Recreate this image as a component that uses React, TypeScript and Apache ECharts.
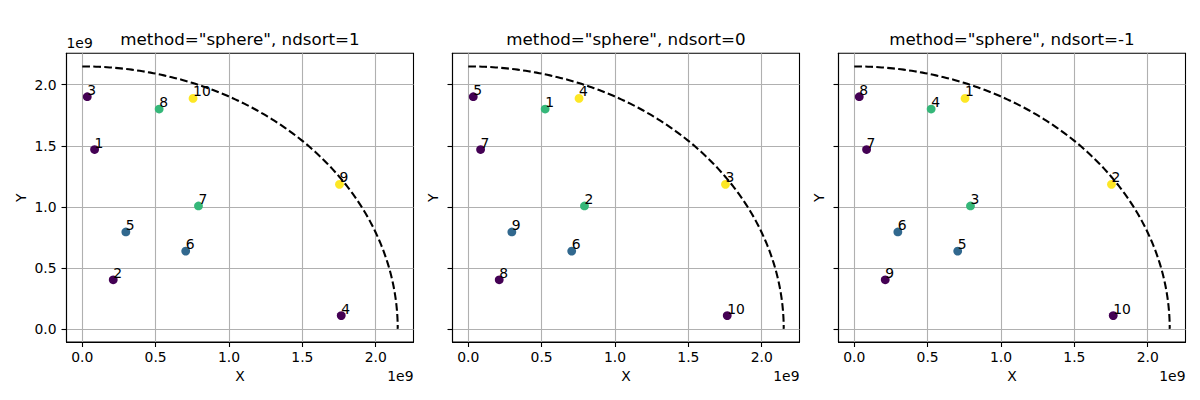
import React, { useEffect, useRef } from "react";
import * as echarts from "echarts";

// Point coordinates (units of 1e9), shared by all three panels
const X_VALUES = [0.034, 0.084, 0.211, 0.297, 0.524, 0.705, 0.755, 0.792, 1.753, 1.765];
const Y_VALUES = [1.902, 1.469, 0.402, 0.794, 1.801, 0.637, 1.888, 1.007, 1.184, 0.109];
// viridis colour class of each point
const COLOR_CLASS = [0, 0, 0, 1, 2, 1, 3, 2, 3, 0];
const VIRIDIS = ["#440154", "#31688e", "#35b779", "#fde725"];
// point labels per panel
const LABELS_NDSORT_1 = [3, 1, 2, 5, 8, 6, 10, 7, 9, 4];
const LABELS_NDSORT_0 = [5, 7, 8, 9, 1, 6, 4, 2, 3, 10];
const LABELS_NDSORT_M1 = [8, 7, 9, 6, 4, 5, 1, 3, 2, 10];
const NDSORT = [1, 0, -1];
const PANEL_LABELS = [LABELS_NDSORT_1, LABELS_NDSORT_0, LABELS_NDSORT_M1];
const TICKS = [0, 0.5, 1.0, 1.5, 2.0];
const RADIUS = 2.15;
const AXIS_MIN = -0.1075;
const AXIS_MAX = 2.2575;
const OFFSET_TEXT = "1e9";

const FONT = "DejaVu Sans";

export default function App() {
  const ref = useRef<HTMLDivElement>(null);
  useEffect(() => {
    document.body.style.margin = "0";
    const chart = echarts.init(ref.current!, null, { renderer: "svg" });
    const GRID_LEFT = 66.5;
    const GRID_STEP = 386;
    const GRID_TOP = 53.3;
    const GRID_W = 347;
    const GRID_H = 288.7;

    const grids: any[] = [];
    const xAxes: any[] = [];
    const yAxes: any[] = [];
    const series: any[] = [];
    const graphics: any[] = [];

    const axisCommon = (i: number, isY: boolean) => ({
      gridIndex: i,
      type: "value",
      min: AXIS_MIN,
      max: AXIS_MAX,
      axisLine: { show: true, onZero: false, lineStyle: { color: "#000", width: 1.1 } },
      axisTick: { show: true, customValues: TICKS, length: 5, lineStyle: { color: "#000", width: 1.1 } },
      axisLabel: {
        show: !isY || i === 0,
        customValues: TICKS,
        formatter: (v: number) => v.toFixed(1),
        margin: isY ? 10 : 8,
        fontSize: 13.9,
        color: "#000",
        fontFamily: FONT,
      },
      splitLine: { show: true, lineStyle: { color: "#b0b0b0", width: 1.1 } },
      nameLocation: "middle",
      nameTextStyle: { fontSize: 13.9, color: "#000", fontFamily: FONT },
    });

    for (let i = 0; i < 3; i++) {
      const left = GRID_LEFT + i * GRID_STEP;
      grids.push({
        left,
        top: GRID_TOP,
        width: GRID_W,
        height: GRID_H,
        show: true,
        borderColor: "#000",
        borderWidth: 1.1,
        backgroundColor: "transparent",
      });
      xAxes.push({ ...axisCommon(i, false), name: "X", nameGap: 27 });
      yAxes.push({ ...axisCommon(i, true), name: "Y", nameRotate: 90, nameGap: i === 0 ? 39 : 12.5 });

      series.push({
        type: "custom",
        xAxisIndex: i,
        yAxisIndex: i,
        data: [[RADIUS, 0]],
        z: 3,
        renderItem: (params: any, api: any) => {
          const r = api.value(0);
          const pts: number[][] = [];
          const N = 180;
          for (let k = 0; k <= N; k++) {
            const t = (k / N) * (Math.PI / 2);
            pts.push(api.coord([r * Math.sin(t), r * Math.cos(t)]));
          }
          return {
            type: "polyline",
            shape: { points: pts },
            style: { stroke: "#000", lineWidth: 2.08, lineDash: [7.7, 3.3], fill: null },
          };
        },
      });

      const labels = PANEL_LABELS[i];
      series.push({
        type: "scatter",
        xAxisIndex: i,
        yAxisIndex: i,
        symbolSize: 8.8,
        z: 2,
        data: X_VALUES.map((x, k) => ({
          value: [x, Y_VALUES[k]],
          itemStyle: { color: VIRIDIS[COLOR_CLASS[k]], opacity: 1 },
          label: { formatter: String(labels[k]) },
        })),
        label: {
          show: true,
          position: ["50%", "50%"],
          offset: [1, 0],
          align: "left",
          verticalAlign: "bottom",
          fontSize: 13.9,
          color: "#000",
          fontFamily: FONT,
        },
        labelLayout: { hideOverlap: false },
        emphasis: { disabled: true },
      });

      graphics.push({
        type: "text",
        x: left + GRID_W / 2,
        y: 39,
        style: {
          text: `method="sphere", ndsort=${NDSORT[i]}`,
          fontSize: 16.7,
          fontFamily: FONT,
          fill: "#000",
          align: "center",
          verticalAlign: "middle",
        },
      });
      graphics.push({
        type: "text",
        x: left + GRID_W,
        y: 376,
        style: {
          text: OFFSET_TEXT,
          fontSize: 13.9,
          fontFamily: FONT,
          fill: "#000",
          align: "right",
          verticalAlign: "middle",
        },
      });
    }
    graphics.push({
      type: "text",
      x: GRID_LEFT,
      y: 43,
      style: {
        text: OFFSET_TEXT,
        fontSize: 13.9,
        fontFamily: FONT,
        fill: "#000",
        align: "left",
        verticalAlign: "middle",
      },
    });

    chart.setOption({
      animation: false,
      backgroundColor: "#fff",
      grid: grids,
      xAxis: xAxes,
      yAxis: yAxes,
      series,
      graphic: graphics,
    });
    return () => chart.dispose();
  }, []);
  return <div ref={ref} style={{ width: 1200, height: 400 }} />;
}
